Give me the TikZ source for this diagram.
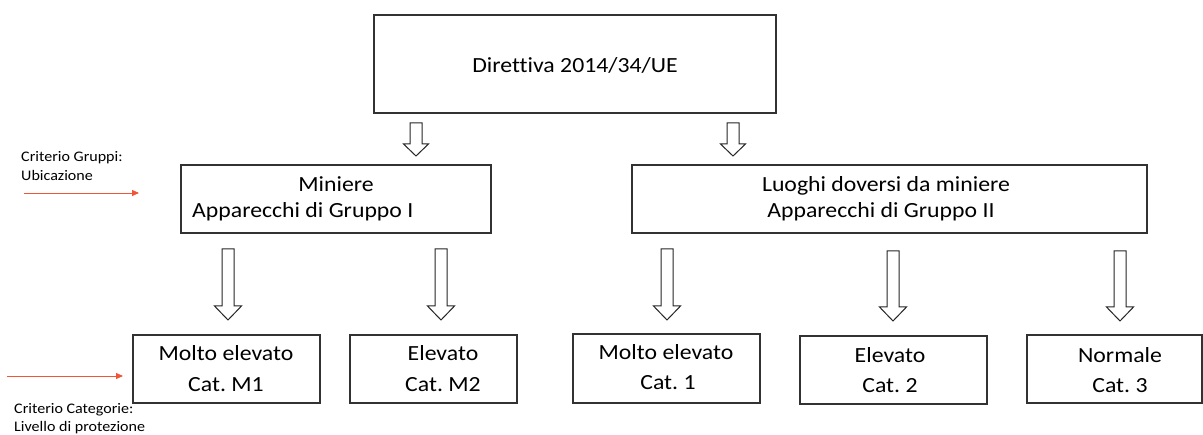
\documentclass[tikz,border=0pt]{standalone}
\usepackage{fontspec}
\setmainfont{Carlito}[FakeStretch=1.1, Ligatures=CommonOff]
\frenchspacing
\usetikzlibrary{arrows.meta}
\definecolor{redline}{RGB}{240,85,55}
\definecolor{boxline}{RGB}{50,50,50}
\newcommand{\hollowarrow}[6]{% x, ytop, ytip, headbase, shaft half, head half
  \draw[arrowline] (#1-#5,#2) -- (#1+#5,#2) -- (#1+#5,#4) -- (#1+#6,#4) -- (#1,#3) -- (#1-#6,#4) -- (#1-#5,#4) -- cycle;}
\tikzset{
  box/.style={draw=boxline, line width=1.2pt, inner sep=0pt, fill=white},
  arrowline/.style={draw=black!85, line width=1pt, line join=miter, fill=white},
  txt/.style={inner sep=0pt, font=\fontsize{21.6}{26}\selectfont, text=black, anchor=base},
  smalltxt/.style={inner sep=0pt, font=\fontsize{14.6}{17}\selectfont, text=black, anchor=base west},
  redarrow/.style={draw=redline, line width=0.9pt, -{Triangle[length=7pt,width=6pt]}}
}
\begin{document}
\begin{tikzpicture}[x=1pt,y=-1pt]
\useasboundingbox (0,0) rectangle (1203,435);
% top box
\node[box, minimum width=402, minimum height=98] (dir) at (575,64) {};
\node[txt] (dirt) at (575,73) {Direttiva 2014/34/UE};
% group boxes
\node[box, minimum width=310, minimum height=68] (min) at (336,199) {};
\node[txt] (min1) at (336,192) {Miniere};
\node[txt, anchor=base west] (min2) at (192,218) {Apparecchi di Gruppo I};
\node[box, minimum width=515, minimum height=68] (luo) at (889.5,199) {};
\node[txt] (luo1) at (886,192) {Luoghi doversi da miniere};
\node[txt] (luo2) at (881,218) {Apparecchi di Gruppo II};
% category boxes
\node[box, minimum width=187, minimum height=68] (m1) at (226.5,369) {};
\node[txt] (m1a) at (226,361) {Molto elevato};
\node[txt] (m1b) at (226,392) {Cat. M1};
\node[box, minimum width=167, minimum height=68] (m2) at (433.5,369) {};
\node[txt] (m2a) at (443,361) {Elevato};
\node[txt] (m2b) at (443,392) {Cat. M2};
\node[box, minimum width=187, minimum height=69] (c1) at (666.5,368.5) {};
\node[txt] (c1a) at (666,360) {Molto elevato};
\node[txt] (c1b) at (668,390) {Cat. 1};
\node[box, minimum width=187, minimum height=68] (c2) at (893.5,370) {};
\node[txt] (c2a) at (890,363) {Elevato};
\node[txt] (c2b) at (890,393) {Cat. 2};
\node[box, minimum width=175, minimum height=68] (c3) at (1114.5,369) {};
\node[txt] (c3a) at (1120,363) {Normale};
\node[txt] (c3b) at (1120,393) {Cat. 3};
% hollow arrows
\hollowarrow{416}{123}{156}{144}{6}{12.5}
\hollowarrow{733}{123}{156}{144}{6}{12.5}
\hollowarrow{228}{249}{320}{306}{6}{13.5}
\hollowarrow{441}{249}{320}{306}{6}{13.5}
\hollowarrow{667}{249}{320}{306}{6}{13.5}
\hollowarrow{893}{251}{321}{307}{6}{13.5}
\hollowarrow{1120}{251}{321}{307}{6}{13.5}
% side labels
\node[smalltxt] (lg1) at (21,162) {Criterio Gruppi:};
\node[smalltxt] (lg2) at (21,181) {Ubicazione};
\node[smalltxt] (lc1) at (14,414) {Criterio Categorie:};
\node[smalltxt] (lc2) at (14,432) {Livello di protezione};
\coordinate (ra1) at (24,193);
\coordinate (ra2) at (139,193);
\coordinate (rb1) at (7,376);
\coordinate (rb2) at (123,376);
\draw[redarrow] (ra1) -- (ra2);
\draw[redarrow] (rb1) -- (rb2);
\end{tikzpicture}
\end{document}
